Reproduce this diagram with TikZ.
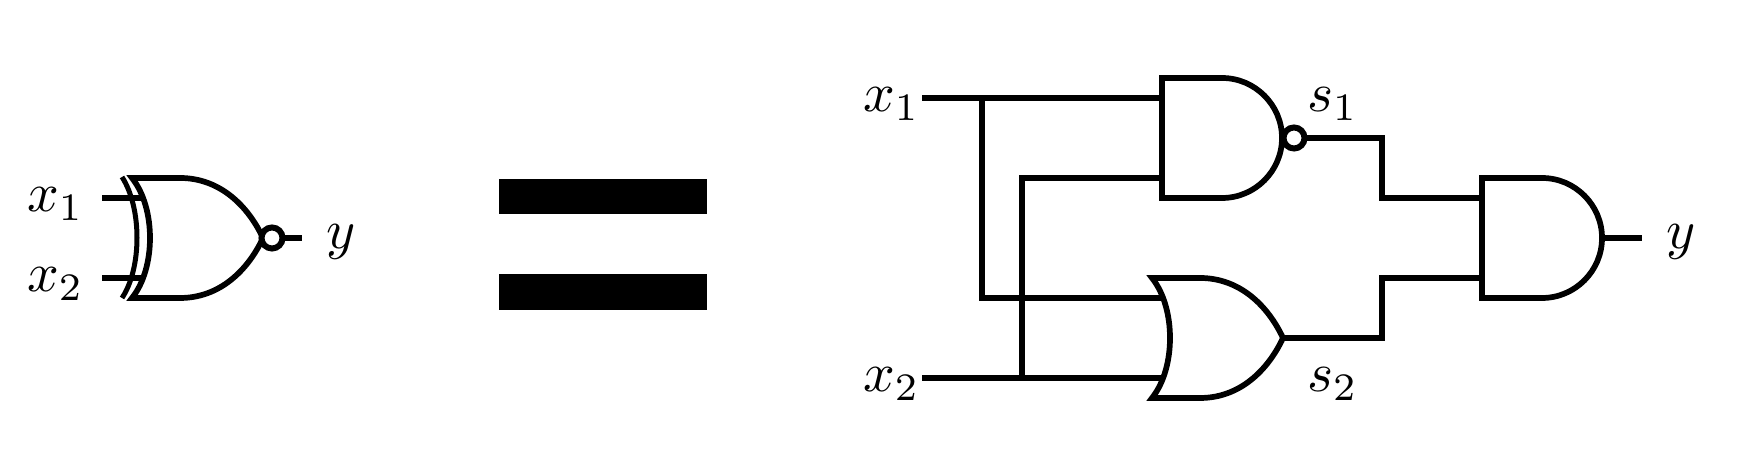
\documentclass[tikz,border=0pt]{standalone}
\usepackage{amsmath}
\tikzset{
  wire/.style={line width=0.057cm, line join=miter},
  lbl/.style={scale=1.58, transform shape, inner sep=0pt, anchor=base west},
  bubble/.style={circle, draw, fill=white, line width=0.06cm, minimum size=0.21cm, inner sep=0pt, outer sep=0pt},
  andgate/.pic={
    \draw[wire] (60,-60) -- (0,-60) -- (0,60) -- (60,60)
      .. controls (93,60) and (120,33) .. (120,0)
      .. controls (120,-33) and (93,-60) .. (60,-60) -- cycle;
    \coordinate (-in1) at (0,-40);
    \coordinate (-in2) at (0,40);
    \coordinate (-out) at (120,0);
  },
  orgate/.pic={
    \draw[wire] (0,-60) -- (48,-60)
      .. controls (88,-60) and (116,-32) .. (131,0)
      .. controls (116,32) and (88,60) .. (48,60)
      -- (0,60) .. controls (24,30) and (24,-30) .. (0,-60) -- cycle;
    \coordinate (-in1) at (10,-40);
    \coordinate (-in2) at (10,40);
    \coordinate (-out) at (131,0);
  },
}
\begin{document}
\begin{tikzpicture}[x=0.01cm, y=-0.01cm]
  \useasboundingbox (0,0) rectangle (1752,468);

  % left gate
  \pic (xn) at (132,238) {orgate};
  \draw[line width=0.05cm] (122,177) .. controls (142,208) and (142,268) .. (122,298);
  \node[bubble] (nxn) at (272,238) {};
  \coordinate (ina) at (102,198);
  \coordinate (inb) at (102,278);
  \coordinate (outl) at (302,238);
  \draw[wire] (ina) -- (xn-in1);
  \draw[wire] (inb) -- (xn-in2);
  \draw[wire] (nxn.east) -- (outl);
  \node[lbl] (xal) at (26,212) {$x_1$};
  \node[lbl] (xbl) at (26,292) {$x_2$};
  \node[lbl] (yl) at (325,249) {$y$};

  % equals
  \fill (499,179) rectangle (707,214);
  \fill (499,274) rectangle (707,310);

  % right circuit
  \pic (anda) at (1162,138) {andgate};
  \pic (org) at (1152,338) {orgate};
  \pic (andb) at (1482,238) {andgate};
  \node[bubble] (na) at (1294,138) {};

  \coordinate (inc) at (922,98);
  \coordinate (ind) at (922,378);
  \coordinate (ja) at (982,98);
  \coordinate (jb) at (1022,378);
  \coordinate (ka) at (1382,168);
  \coordinate (kb) at (1382,308);
  \coordinate (outr) at (1642,238);

  \draw[wire] (inc) -- (anda-in1);
  \draw[wire] (ind) -- (org-in2);
  \draw[wire] (ja) |- (org-in1);
  \draw[wire] (jb) |- (anda-in2);
  \draw[wire] (na.east) -| (ka) |- (andb-in1);
  \draw[wire] (org-out) -| (kb) |- (andb-in2);
  \draw[wire] (andb-out) -- (outr);

  \node[lbl] (xa) at (862,112) {$x_1$};
  \node[lbl] (xb) at (862,392) {$x_2$};
  \node[lbl] (sa) at (1306,112) {$s_1$};
  \node[lbl] (sb) at (1306,392) {$s_2$};
  \node[lbl] (y) at (1665,249) {$y$};
\end{tikzpicture}
\end{document}
